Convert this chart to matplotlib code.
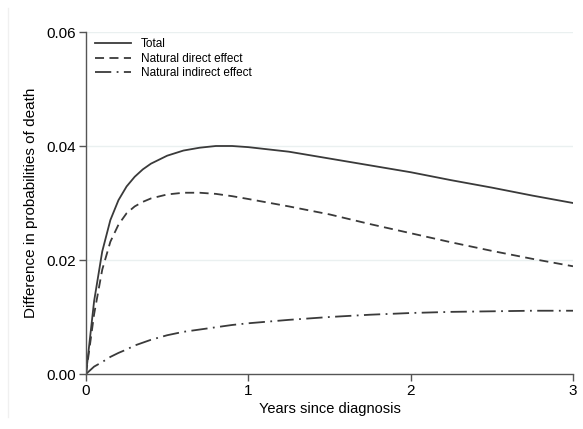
import matplotlib
matplotlib.use("Agg")
import matplotlib.pyplot as plt
from matplotlib.lines import Line2D

years = [0, 0.05, 0.1, 0.15, 0.2, 0.25, 0.3, 0.35, 0.4, 0.5, 0.6, 0.7, 0.8, 0.9, 1.0,
         1.25, 1.5, 1.75, 2.0, 2.25, 2.5, 2.75, 3.0]
total = [0, 0.0128, 0.0215, 0.0270, 0.0305, 0.0329, 0.0346, 0.0359, 0.0369, 0.0383, 0.0392, 0.0397, 0.0400, 0.0400, 0.0398,
         0.0390, 0.0378, 0.0366, 0.0354, 0.0340, 0.0327, 0.0313, 0.0300]
direct = [0, 0.0105, 0.0183, 0.0232, 0.0262, 0.0282, 0.0294, 0.0302, 0.0308, 0.0315, 0.0318, 0.0318, 0.0316, 0.0312, 0.0307,
          0.0294, 0.0280, 0.0263, 0.0247, 0.0231, 0.0216, 0.0202, 0.0189]
indirect = [0, 0.0013, 0.0021, 0.0030, 0.0037, 0.0043, 0.0050, 0.0055, 0.0060, 0.0068, 0.0074, 0.0078, 0.0082, 0.0086, 0.0089,
            0.0095, 0.0100, 0.0104, 0.0107, 0.0109, 0.0110, 0.0111, 0.0111]

xticks = [0, 1, 2, 3]
yticks = [0.00, 0.02, 0.04, 0.06]
ytick_labels = ["0.00", "0.02", "0.04", "0.06"]

plt.rcParams['font.family'] = ['Liberation Sans', 'DejaVu Sans']

W, H = 583, 429
fig = plt.figure(figsize=(W / 100, H / 100), dpi=100)
ax = fig.add_axes([86 / W, 1 - 374 / H, (573 - 86) / W, (374 - 32) / H])

lc = '#3a3a3a'
ax.plot(years, total, color=lc, lw=1.3, ls='-', label='Total')
ax.plot(years, direct, color=lc, lw=1.3, ls=(0, (5, 3)), label='Natural direct effect')
ax.plot(years, indirect, color=lc, lw=1.3, ls=(0, (9, 3, 1, 3)), label='Natural indirect effect')

ax.set_xlim(0, 3)
ax.set_ylim(0, 0.06)
ax.set_xticks(xticks)
ax.set_xticklabels([str(t) for t in xticks])
ax.set_yticks(yticks)
ax.set_yticklabels(ytick_labels)
for y in yticks[1:]:
    ax.axhline(y, color='#eaf0f0', lw=1.0, zorder=0)

for s in ['top', 'right']:
    ax.spines[s].set_visible(False)
for s in ['left', 'bottom']:
    ax.spines[s].set_color('#555555')
    ax.spines[s].set_linewidth(1.0)
ax.tick_params(direction='out', length=5, width=1.0, color='#555555', labelsize=11, pad=2)

ax.set_xlabel('Years since diagnosis', fontsize=10.5, labelpad=3)
ax.set_ylabel('Difference in probabilities of death', fontsize=11, labelpad=6)

ax.legend(loc='upper left', bbox_to_anchor=(0.005, 1.0), frameon=False, fontsize=8.45,
          handlelength=3.1, handletextpad=0.8, labelspacing=0.2, borderaxespad=0.15)

fig.add_artist(Line2D([7.5 / W, 7.5 / W], [1 - 8 / H, 1 - 417 / H], color='#f0f0f0', lw=1.0))

fig.savefig('out.png', dpi=100)
